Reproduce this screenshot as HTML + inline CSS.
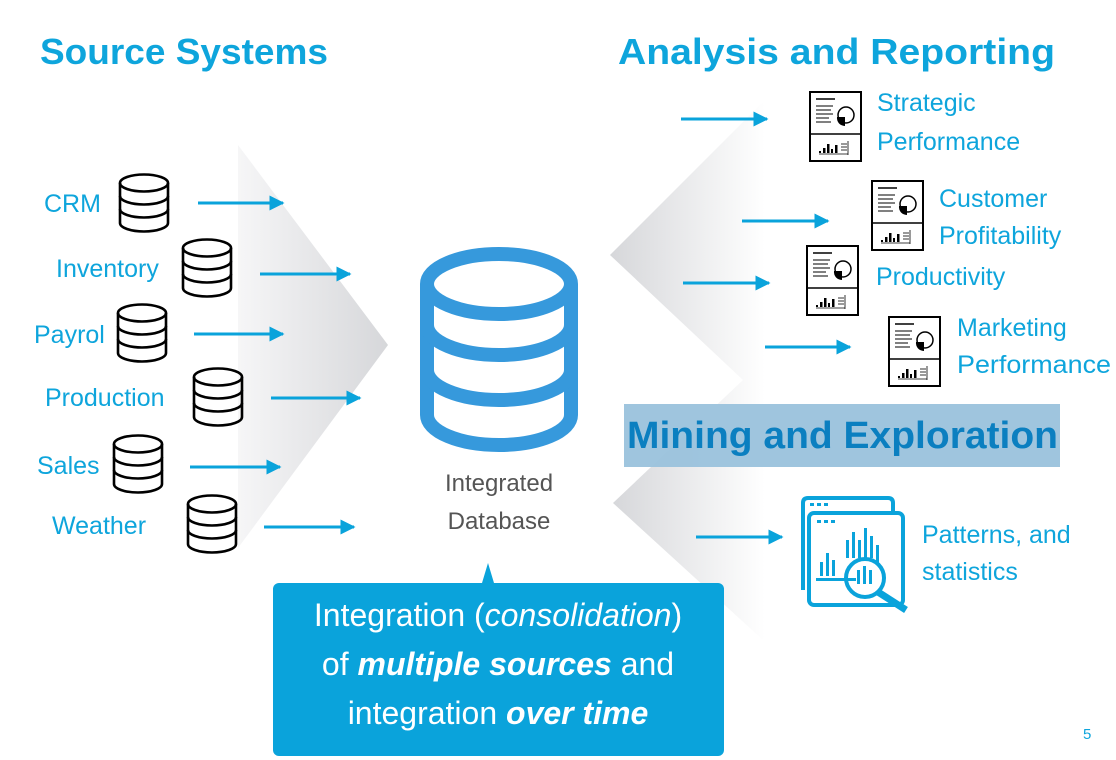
<!DOCTYPE html>
<html><head><meta charset="utf-8"><style>
html,body{margin:0;padding:0;background:#fff;}
svg{display:block;font-family:"Liberation Sans",sans-serif;}
</style></head><body>
<svg width="1116" height="760" viewBox="0 0 1116 760" xmlns="http://www.w3.org/2000/svg">
<defs>
<linearGradient id="gl" x1="0" y1="0" x2="1" y2="0">
<stop offset="0" stop-color="#f6f6f7"/><stop offset="1" stop-color="#d6d7da"/></linearGradient>
<linearGradient id="gr" x1="0" y1="0" x2="1" y2="0">
<stop offset="0" stop-color="#d6d7da"/><stop offset="1" stop-color="#ffffff"/></linearGradient>
<g id="sdb" fill="none" stroke="#000" stroke-width="2.6">
<ellipse cx="26" cy="10" rx="24" ry="8.5"/>
<path d="M2 10 V50 A24 8.5 0 0 0 50 50 V10"/>
<path d="M2 23 A24 8.5 0 0 0 50 23"/>
<path d="M2 36 A24 8.5 0 0 0 50 36"/>
</g>
<g id="rep">
<rect x="1" y="1" width="51" height="69" fill="#fff" stroke="#000" stroke-width="2"/>
<line x1="1" y1="43" x2="52" y2="43" stroke="#000" stroke-width="1.5"/>
<line x1="7" y1="8" x2="26" y2="8" stroke="#000" stroke-width="1.5"/>
<g stroke="#000" stroke-width="1"><line x1="7" y1="15" x2="24" y2="15"/><line x1="7" y1="19" x2="22" y2="19"/><line x1="7" y1="23" x2="24" y2="23"/><line x1="7" y1="27" x2="20" y2="27"/><line x1="7" y1="31" x2="22" y2="31"/></g>
<circle cx="37" cy="24" r="8" fill="#fff" stroke="#000" stroke-width="1.5"/>
<path d="M28 26 H36 V35 A8 8 0 0 1 28 26Z" fill="#000"/>
<g fill="#000"><rect x="10" y="60" width="2" height="2"/><rect x="14" y="57" width="2.5" height="5"/><rect x="18" y="53" width="2.5" height="9"/><rect x="22" y="58" width="2" height="4"/><rect x="26" y="54" width="2.5" height="8"/></g>
<g stroke="#000" stroke-width="0.8"><line x1="32" y1="53" x2="38" y2="53"/><line x1="32" y1="56" x2="38" y2="56"/><line x1="32" y1="59" x2="38" y2="59"/><line x1="39" y1="50" x2="39" y2="64"/><line x1="10" y1="63" x2="39" y2="63"/></g>
</g>
<marker id="ah" markerWidth="5" markerHeight="5" refX="4.5" refY="2.5" orient="auto" markerUnits="strokeWidth">
<path d="M0 0 L5 2.5 L0 5Z" fill="#0aa3db"/></marker>
</defs>

<!-- background chevrons -->
<polygon points="238,145 388,345 238,548" fill="url(#gl)"/>
<polygon points="765,100 610,255 743,380 765,380" fill="url(#gr)"/>
<polygon points="743,380 613,503 763,640 765,640 765,380" fill="url(#gr)"/>

<!-- titles -->
<text x="40" y="64" font-size="36" font-weight="bold" fill="#0ea5dc" textLength="288" lengthAdjust="spacingAndGlyphs">Source Systems</text>
<text x="618" y="64" font-size="36" font-weight="bold" fill="#0ea5dc" textLength="437" lengthAdjust="spacingAndGlyphs">Analysis and  Reporting</text>

<!-- source labels -->
<g font-size="25" fill="#0ea5dc">
<text x="44" y="212">CRM</text>
<text x="56" y="277">Inventory</text>
<text x="34" y="343">Payrol</text>
<text x="45" y="406">Production</text>
<text x="37" y="474">Sales</text>
<text x="52" y="534">Weather</text>
</g>
<use href="#sdb" x="118" y="173"/>
<use href="#sdb" x="181" y="238"/>
<use href="#sdb" x="116" y="303"/>
<use href="#sdb" x="192" y="367"/>
<use href="#sdb" x="112" y="434"/>
<use href="#sdb" x="186" y="494"/>

<g stroke="#0aa3db" stroke-width="3" marker-end="url(#ah)">
<line x1="198" y1="203" x2="283" y2="203"/>
<line x1="260" y1="274" x2="350" y2="274"/>
<line x1="194" y1="334" x2="283" y2="334"/>
<line x1="271" y1="398" x2="360" y2="398"/>
<line x1="190" y1="467" x2="280" y2="467"/>
<line x1="264" y1="527" x2="354" y2="527"/>
<line x1="681" y1="119" x2="767" y2="119"/>
<line x1="742" y1="221" x2="828" y2="221"/>
<line x1="683" y1="283" x2="769" y2="283"/>
<line x1="765" y1="347" x2="850" y2="347"/>
<line x1="696" y1="537" x2="782" y2="537"/>
</g>

<!-- big db -->
<g fill="none" stroke="#3699dc" stroke-width="14">
<ellipse cx="499" cy="284" rx="72" ry="30"/>
<path d="M427 284 V415 A72 30 0 0 0 571 415 V284"/>
<path d="M427 325 A72 30 0 0 0 571 325"/>
<path d="M427 370 A72 30 0 0 0 571 370"/>
</g>
<text x="499" y="491" font-size="24" fill="#555" text-anchor="middle">Integrated</text>
<text x="499" y="529" font-size="24" fill="#555" text-anchor="middle">Database</text>

<!-- reports -->
<use href="#rep" x="809" y="91"/>
<use href="#rep" x="871" y="180"/>
<use href="#rep" x="806" y="245"/>
<use href="#rep" x="888" y="316"/>
<g font-size="25" fill="#0ea5dc">
<text x="877" y="111">Strategic</text>
<text x="877" y="150">Performance</text>
<text x="939" y="207">Customer</text>
<text x="939" y="244">Profitability</text>
<text x="876" y="285">Productivity</text>
<text x="957" y="336">Marketing</text>
<text x="957" y="373" textLength="154" lengthAdjust="spacingAndGlyphs">Performance</text>
<text x="922" y="543">Patterns, and</text>
<text x="922" y="580">statistics</text>
</g>

<!-- mining -->
<rect x="624" y="404" width="436" height="63" fill="#9ac2dc" opacity="0.95"/>
<text x="627" y="448" font-size="38" font-weight="bold" fill="#0b7fc0" textLength="431" lengthAdjust="spacingAndGlyphs">Mining and Exploration</text>

<!-- search icon -->
<g fill="none" stroke="#0aa3db" stroke-width="4">
<path d="M803 590 V503 Q803 498 808 498 H888 Q893 498 893 503 V512"/>
<rect x="809" y="513" width="94" height="92" rx="5"/>
<circle cx="865" cy="578" r="19"/>
<line x1="878" y1="592" x2="906" y2="610" stroke-width="7"/>
</g>
<g fill="#0aa3db">
<rect x="810" y="503" width="4" height="3"/><rect x="817" y="503" width="4" height="3"/><rect x="824" y="503" width="4" height="3"/>
<rect x="817" y="520" width="4" height="3"/><rect x="824" y="520" width="4" height="3"/><rect x="831" y="520" width="4" height="3"/>
<rect x="820" y="562" width="3" height="14"/><rect x="826" y="553" width="3" height="23"/><rect x="832" y="560" width="3" height="16"/>
<rect x="846" y="540" width="3" height="18"/><rect x="852" y="532" width="3" height="26"/><rect x="858" y="540" width="3" height="18"/><rect x="864" y="528" width="3" height="30"/><rect x="870" y="536" width="3" height="22"/><rect x="876" y="545" width="3" height="20"/>
<rect x="857" y="570" width="3" height="14"/><rect x="863" y="566" width="3" height="18"/><rect x="869" y="570" width="3" height="14"/>
<rect x="816" y="578" width="40" height="3"/>
</g>

<!-- bottom box -->
<polygon points="482,583 488,563 494,583" fill="#0aa3db"/>
<rect x="273" y="583" width="451" height="173" rx="6" fill="#0aa3db"/>
<g font-size="32" fill="#fff" text-anchor="middle">
<text x="498" y="626">Integration (<tspan font-style="italic">consolidation</tspan>)</text>
<text x="498" y="675">of <tspan font-style="italic" font-weight="bold">multiple sources</tspan> and</text>
<text x="498" y="724">integration <tspan font-style="italic" font-weight="bold">over time</tspan></text>
</g>

<text x="1083" y="739" font-size="15" fill="#0ea5dc">5</text>
</svg>
</body></html>
